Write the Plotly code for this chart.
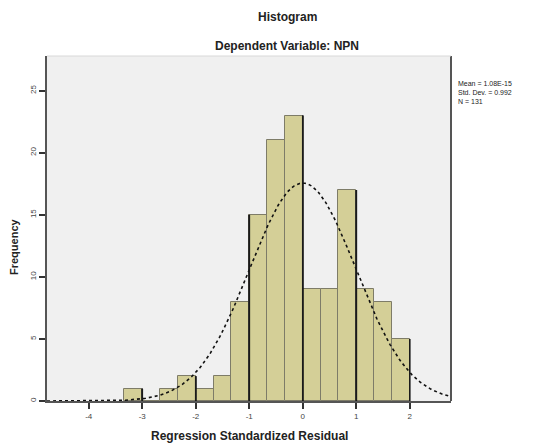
import numpy as np
import plotly.graph_objects as go

# ---- data ----
bin_width = 1.0 / 3.0
bin_starts = [-10/3, -3.0, -8/3, -7/3, -2.0, -5/3, -4/3, -1.0, -2/3, -1/3,
              0.0, 1/3, 2/3, 1.0, 4/3, 5/3]
counts = [1, 0, 1, 2, 1, 2, 8, 15, 21, 23, 9, 9, 17, 9, 8, 5]
x_ticks = [-4, -3, -2, -1, 0, 1, 2]
y_ticks = [0, 5, 10, 15, 20, 25]
mean_val = 0.0
std_val = 0.992
n_val = sum(counts)
legend_lines = ["Mean = 1.08E-15", "Std. Dev. = 0.992", "N = 131"]

bar_fill = "#D4CF97"
bar_edge = "#7E7C68"

centers = [s + bin_width / 2 for s in bin_starts]

fig = go.Figure()
fig.add_trace(go.Bar(
    x=centers, y=counts, width=bin_width,
    marker=dict(color=bar_fill, line=dict(color=bar_edge, width=1)),
    showlegend=False, hoverinfo="skip"))

# fitted normal curve from mean / sd / N
xc = np.linspace(-4.78, 2.77, 300)
yc = n_val * bin_width / (std_val * np.sqrt(2 * np.pi)) * np.exp(-0.5 * ((xc - mean_val) / std_val) ** 2)
fig.add_trace(go.Scatter(x=xc, y=yc, mode="lines",
                         line=dict(color="#111111", width=1.6, dash="dot"),
                         showlegend=False, hoverinfo="skip"))

# darker edges at integer bin boundaries (as rendered in the reference)
shapes = []
for i, s in enumerate(bin_starts):
    for edge, nb in ((s, i - 1), (s + bin_width, i + 1)):
        if abs(edge - round(edge)) < 1e-6:
            h = counts[i]
            if 0 <= nb < len(counts):
                h = max(h, counts[nb])
            if h > 0:
                shapes.append(dict(type="line", xref="x", yref="y",
                                   x0=round(edge), x1=round(edge), y0=0, y1=h,
                                   line=dict(color="#1a1a1a", width=1.6)))

# frame
shapes.append(dict(type="line", xref="paper", yref="paper", x0=1, x1=1, y0=0, y1=1,
                   line=dict(color="#555555", width=2)))
shapes.append(dict(type="line", xref="paper", yref="paper", x0=0, x1=1, y0=1, y1=1,
                   line=dict(color="#d8d8d8", width=1)))

# page body has an 8px margin, so figure coords = screen coords - 8
fig.update_layout(
    width=541, height=444,
    margin=dict(l=39, r=98, t=48, b=51),
    paper_bgcolor="white", plot_bgcolor="#F0F0F0",
    font=dict(family="Liberation Sans, Arial, sans-serif", color="#222222"),
    bargap=0, shapes=shapes,
    xaxis=dict(range=[-4.78, 2.77], tickvals=x_ticks, ticktext=[str(v) for v in x_ticks],
               ticks="outside", ticklen=6, tickwidth=1.5, tickcolor="#333333",
               tickfont=dict(size=8, color="#444444"),
               showline=True, linecolor="#555555", linewidth=2,
               showgrid=False, zeroline=False, fixedrange=True),
    yaxis=dict(range=[0, 27.8], tickvals=y_ticks, ticktext=[str(v) for v in y_ticks],
               ticks="outside", ticklen=6, tickwidth=1.5, tickcolor="#333333",
               tickangle=-90, tickfont=dict(size=8, color="#444444"),
               showline=True, linecolor="#555555", linewidth=2,
               showgrid=False, zeroline=False, fixedrange=True),
    annotations=[
        dict(text="<b>Histogram</b>", xref="paper", yref="paper", x=(287 - 47) / 404, y=1 + (56 - 17) / 345,
             showarrow=False, font=dict(size=12, color="#222222"), xanchor="center", yanchor="middle"),
        dict(text="<b>Dependent Variable: NPN</b>", xref="paper", yref="paper", x=(287 - 47) / 404,
             y=1 + (56 - 46) / 345, showarrow=False, font=dict(size=12, color="#222222"),
             xanchor="center", yanchor="middle"),
        dict(text="<b>Regression Standardized Residual</b>", xref="paper", yref="paper",
             x=(249 - 47) / 404, y=-(436 - 401) / 345, showarrow=False,
             font=dict(size=12, color="#222222"), xanchor="center", yanchor="middle"),
        dict(text="<b>Frequency</b>", xref="paper", yref="paper", x=-(47 - 14) / 404,
             y=(401 - 247) / 345, textangle=-90, showarrow=False,
             font=dict(size=11, color="#222222"), xanchor="center", yanchor="middle"),
        dict(text="<br>".join(legend_lines), xref="paper", yref="paper", x=1 + 5 / 404,
             y=1 - (78 - 56) / 345, showarrow=False, align="left",
             font=dict(size=7, color="#222222"), xanchor="left", yanchor="top"),
    ],
)

fig.write_html("out.html")
